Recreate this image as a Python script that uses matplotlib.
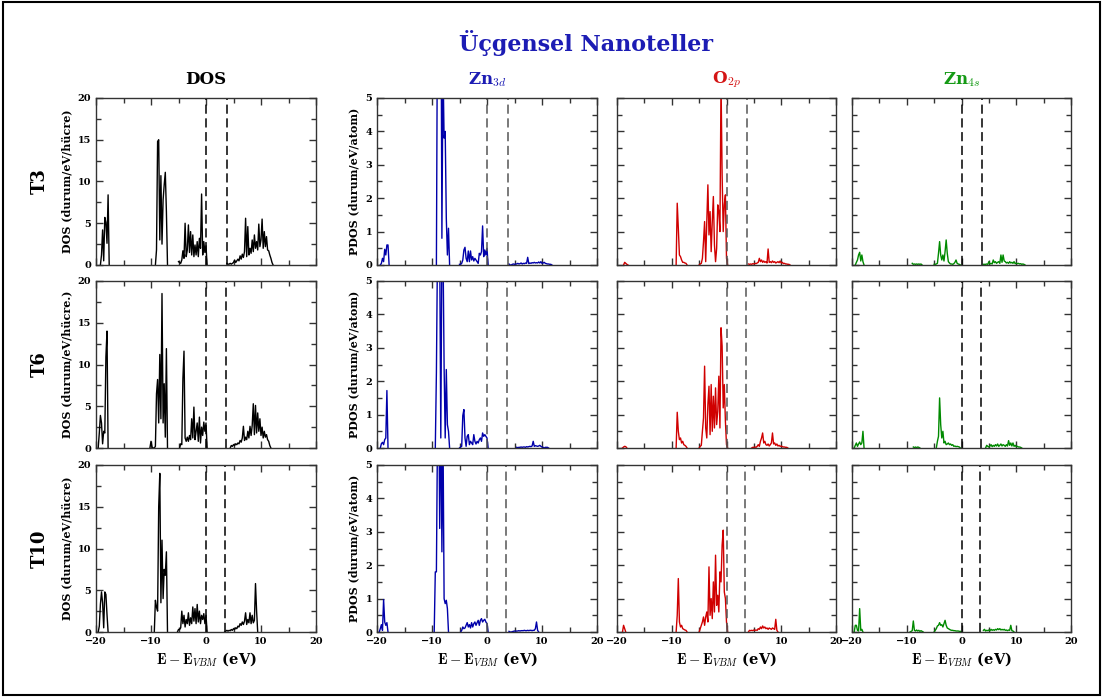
import numpy as np
import matplotlib
matplotlib.use("Agg")
from matplotlib import pyplot as plt
from matplotlib.patches import Rectangle
from matplotlib.ticker import MultipleLocator

plt.rcParams['font.family'] = ['DejaVu Serif']
plt.rcParams['mathtext.fontset'] = 'cm'

# energy grid step of the sampled spectra (eV)
STEP = 0.2

rows = ['T3', 'T6', 'T10']
gaps = [3.8, 3.65, 3.47]          # second dashed line (band gap), eV
col_titles = ['DOS', r'Zn$_{3d}$', r'O$_{2p}$', r'Zn$_{4s}$']
col_colors = ['black', '#1c1cb4', '#d41414', '#159a15']
line_colors = ['black', '#0000aa', '#d00000', '#008a00']
xticks = [-20, -10, 0, 10, 20]

# ---------------- T3 ----------------
t3_dos_start = [-19.2, -9.2, -5.0, 3.8]
t3_dos_vals = [
    [0, 1.2, 4.2, 0.5, 5.7, 5.1, 2.6, 8.4, 0],
    [0, 1.8, 14.8, 15.0, 3.0, 10.7, 2.5, 7.8, 9.6, 11.1, 6.4, 0],
    [0.4, 0.3, 0.2, 0.6, 1.7, 0.8, 5.0, 1.0, 1.8, 4.8, 1.5, 4.0, 1.2, 3.6, 1.0, 2.4,
     1.2, 2.8, 1.0, 3.2, 2.0, 8.5, 1.2, 2.8, 1.5, 2.3, 0],
    [0.2, 0.1, 0.1, 0.2, 0.1, 0.2, 0.3, 0.6, 0.3, 0.5, 0.7, 0.5, 1.1, 0.7, 1.3, 0.9,
     1.6, 5.6, 1.0, 4.6, 1.2, 2.0, 1.4, 3.0, 1.6, 3.6, 2.0, 2.8, 1.8, 4.9, 2.2, 3.0,
     5.5, 2.0, 4.0, 2.2, 3.4, 1.8, 1.7, 1.2, 0.8, 0.3, 0],
]
t3_zn3d_start = [-19.4, -9.2, -5.0, 4.0]
t3_zn3d_vals = [
    [0, 0.05, 0.2, 0.1, 0.47, 0.3, 0.6, 0.6, 0],
    [0, 8, 12, 9, 10, 0.8, 6, 3.8, 4.0, 1.4, 0.3, 1.1, 0],
    [0.02, 0.02, 0.05, 0.15, 0.45, 0.53, 0.2, 0.1, 0.42, 0.1, 0.42, 0.15, 0.25, 0.12,
     0.2, 0.15, 0.1, 0.05, 0.35, 0.3, 0.4, 1.17, 0.25, 0.45, 0.3, 0.5, 0],
    [0.03, 0, 0, 0.02, 0.03, 0.02, 0.03, 0.03, 0.05, 0.03, 0.04, 0.06, 0.03, 0.05,
     0.04, 0.06, 0.05, 0.23, 0.04, 0.06, 0.05, 0.07, 0.06, 0.08, 0.06, 0.07, 0.06,
     0.09, 0.06, 0.1, 0.05, 0.06, 0.08, 0.05, 0.04, 0.03, 0.03, 0.02, 0.02, 0],
]
t3_o2p_start = [-18.8, -9.2, -5.0, 4.0]
t3_o2p_vals = [
    [0, 0.08, 0.05, 0.02, 0],
    [0, 1.85, 1.1, 0.3, 0.25, 0.15, 0.08, 0.08, 0.06, 0.05, 0],
    [0, 0.03, 0.05, 0.2, 0.7, 1.3, 0.1, 1.3, 2.4, 0.9, 1.6, 0.4, 1.3, 2.05, 0.6, 0.1,
     0.5, 1.8, 1.6, 1.0, 5.5, 2.7, 1.0, 1.8, 2.1, 0.2, 0],
    [0.03, 0.02, 0.03, 0.02, 0.04, 0.03, 0.05, 0.04, 0.06, 0.08, 0.2, 0.1, 0.15, 0.08,
     0.12, 0.08, 0.1, 0.06, 0.48, 0.08, 0.1, 0.07, 0.12, 0.08, 0.1, 0.06, 0.08, 0.1,
     0.07, 0.12, 0.06, 0.08, 0.04, 0.05, 0.03, 0.03, 0.02, 0.02, 0],
]
t3_zn4s_start = [-19.4, -9.0, -5.0, 4.0]
t3_zn4s_vals = [
    [0, 0.08, 0.15, 0.3, 0.38, 0.12, 0.3, 0.1, 0],
    [0.05, 0.02, 0.03, 0.02, 0.03, 0.02, 0.03, 0.02, 0.03, 0],
    [0.02, 0.02, 0.03, 0.05, 0.35, 0.7, 0.3, 0.15, 0.3, 0.12, 0.4, 0.75, 0.35, 0.1,
     0.06, 0.03, 0.03, 0.02, 0.04, 0.08, 0.15, 0.05, 0.03, 0.02, 0],
    [0.02, 0.02, 0.02, 0.03, 0.02, 0.1, 0.03, 0.05, 0.03, 0.15, 0.07, 0.1, 0.05, 0.08,
     0.1, 0.05, 0.3, 0.08, 0.3, 0.12, 0.1, 0.06, 0.08, 0.05, 0.1, 0.06, 0.08, 0.05,
     0.1, 0.04, 0.06, 0.04, 0.05, 0.03, 0.04, 0.02, 0.03, 0.02, 0],
]

# ---------------- T6 ----------------
t6_dos_start = [-19.6, -10.2, -4.8, 4.4]
t6_dos_vals = [
    [0, 1.8, 3.9, 3.0, 0.5, 2.0, 1.8, 10.9, 14.0, 0],
    [0, 0.8, 0.1, 0, 0, 0.2, 6.5, 8.2, 3.0, 11.2, 3.5, 18.5, 3.0, 7.7, 1.3, 11.9, 0],
    [0, 0.5, 0.4, 8.3, 11.6, 1.2, 0.8, 1.3, 0.8, 1.5, 1.0, 3.5, 1.2, 4.9, 1.0, 2.0,
     3.0, 0.8, 3.7, 0.6, 2.5, 1.5, 3.1, 2.0, 3.0, 0],
    [0, 0.3, 0.2, 0.4, 0.3, 0.5, 0.4, 0.6, 0.5, 0.9, 0.7, 1.2, 2.6, 0.9, 1.3, 1.0,
     2.0, 1.2, 2.6, 1.5, 2.7, 5.3, 1.6, 5.1, 1.8, 4.2, 2.0, 3.5, 1.5, 2.5, 1.2, 2.0,
     1.3, 1.6, 1.0, 0.8, 0.3, 0],
]
t6_zn3d_start = [-19.4, -9.4, -5.0, 5.4]
t6_zn3d_vals = [
    [0, 0.13, 0.17, 0.1, 0.25, 0.3, 1.72, 0],
    [0, 2.25, 6, 7, 6, 0.3, 6, 6, 2.45, 0.3, 2.35, 0.7, 0.5, 0],
    [0, 0.03, 0.05, 0.97, 1.15, 0.3, 0.05, 0.35, 0.4, 0.1, 0.2, 0.15, 0.1, 0.4, 0.2,
     0.12, 0.2, 0.15, 0.25, 0.3, 0.2, 0.45, 0.35, 0.4, 0.35, 0.3, 0],
    [0.02, 0.01, 0.02, 0.02, 0.03, 0.02, 0.03, 0.03, 0.02, 0.04, 0.03, 0.04, 0.05,
     0.04, 0.06, 0.2, 0.05, 0.07, 0.06, 0.05, 0.06, 0.08, 0.05, 0.03, 0.02, 0, 0.02,
     0.02, 0.02, 0],
]
t6_o2p_start = [-19.0, -9.2, -5.0, 4.6]
t6_o2p_vals = [
    [0, 0.03, 0.05, 0.04, 0],
    [0, 1.07, 0.5, 0.25, 0.3, 0.15, 0.2, 0.1, 0.08, 0.05, 0],
    [0, 0.05, 0.08, 0.5, 0.9, 2.45, 0.6, 0.3, 1.3, 1.85, 0.4, 1.9, 0.5, 1.55, 0.6, 1.8,
     0.7, 1.1, 2.15, 0.6, 3.6, 3.05, 1.2, 1.9, 0.8, 0.1, 0],
    [0, 0.02, 0.02, 0.03, 0.02, 0.05, 0.1, 0.05, 0.2, 0.3, 0.45, 0.15, 0.2, 0.1, 0.08,
     0.12, 0.06, 0.1, 0.15, 0.45, 0.12, 0.15, 0.08, 0.12, 0.06, 0.08, 0.05, 0.06,
     0.04, 0.03, 0.03, 0.02, 0.02, 0],
]
t6_zn4s_start = [-19.6, -8.8, -4.6, 4.4]
t6_zn4s_vals = [
    [0, 0.08, 0.15, 0.05, 0.12, 0.18, 0.1, 0.15, 0.5, 0],
    [0.03, 0.01, 0.03, 0.01, 0.03, 0.02, 0],
    [0, 0.2, 0.35, 1.5, 0.7, 0.3, 0.5, 0.15, 0.2, 0.1, 0.12, 0.15, 0.1, 0.12, 0.08,
     0.1, 0.05, 0.06, 0.04, 0.05, 0.04, 0.03, 0],
    [0, 0.08, 0.05, 0.03, 0.06, 0.1, 0.04, 0.08, 0.05, 0.1, 0.06, 0.12, 0.05, 0.08,
     0.12, 0.06, 0.1, 0.08, 0.05, 0.1, 0.06, 0.22, 0.08, 0.15, 0.06, 0.15, 0.05,
     0.08, 0.04, 0.05, 0.03, 0.03, 0.02, 0],
]

# ---------------- T10 ----------------
t10_dos_start = [-19.6, -9.4, -5.2, 3.4]
t10_dos_vals = [
    [0, 0.7, 3.3, 4.8, 3.5, 0.5, 4.8, 4.5, 2.1, 0],
    [0, 3.8, 3.0, 2.5, 15.0, 19.0, 3.5, 11.0, 4.0, 7.5, 6.8, 9.6, 0],
    [0, 0.3, 0.3, 0.5, 2.5, 1.0, 2.0, 0.6, 1.5, 1.0, 2.3, 0.8, 1.7, 1.0, 3.0, 1.3,
     2.8, 1.0, 3.3, 1.2, 2.5, 1.0, 2.0, 1.5, 2.2, 1.0, 2.0, 0],
    [0, 0.1, 0.2, 0.1, 0.2, 0.15, 0.3, 0.2, 0.4, 0.3, 0.5, 0.4, 0.7, 0.6, 1.0, 0.8,
     1.2, 0.9, 1.3, 2.3, 0.9, 1.5, 1.1, 2.3, 1.0, 2.0, 1.1, 1.4, 5.8, 2.5, 0],
]
t10_zn3d_start = [-19.6, -9.6, -4.8, 4.0]
t10_zn3d_vals = [
    [0, 0.1, 0.22, 0.05, 0.97, 0.3, 0.2, 0.28, 0],
    [0, 1.8, 1.8, 6, 8, 3.1, 7, 2.4, 6, 1.0, 0.85, 0.95, 0.7, 0],
    [0, 0.05, 0.15, 0.1, 0.12, 0.2, 0.28, 0.15, 0.22, 0.12, 0.28, 0.15, 0.25, 0.3, 0.2,
     0.28, 0.35, 0.2, 0.35, 0.4, 0.3, 0.35, 0.38, 0.3, 0.25, 0],
    [0.02, 0, 0, 0.01, 0.02, 0.03, 0.02, 0.03, 0.03, 0.04, 0.03, 0.04, 0.04, 0.04,
     0.05, 0.04, 0.04, 0.05, 0.04, 0.05, 0.05, 0.04, 0.05, 0.05, 0.1, 0.3, 0.05, 0],
]
t10_o2p_start = [-19.0, -9.2, -5.0, 4.0]
t10_o2p_vals = [
    [0, 0.2, 0.1, 0],
    [0, 0.5, 1.6, 0.3, 0.15, 0.2, 0.1, 0.08, 0.06, 0.05, 0],
    [0, 0.1, 0.2, 0.3, 0.45, 0.2, 0.45, 0.6, 0.3, 1.95, 0.5, 1.0, 0.4, 1.5, 0.6, 2.3,
     0.8, 1.1, 0.6, 1.8, 1.5, 2.6, 3.05, 1.2, 1.0, 0.3, 0],
    [0, 0.05, 0.04, 0.05, 0.04, 0.06, 0.05, 0.06, 0.05, 0.1, 0.08, 0.15, 0.1, 0.18,
     0.12, 0.15, 0.1, 0.12, 0.08, 0.12, 0.1, 0.08, 0.12, 0.1, 0.08, 0.38, 0.05, 0],
]
t10_zn4s_start = [-19.6, -9.4, -5.0, 4.0]
t10_zn4s_vals = [
    [0, 0.2, 0.2, 0.05, 0.03, 0.7, 0.05, 0.08, 0],
    [0, 0.02, 0.04, 0.33, 0.05, 0.03, 0.06, 0.03, 0.05, 0.02, 0.04, 0.02, 0],
    [0, 0.05, 0.1, 0.18, 0.2, 0.28, 0.2, 0.22, 0.15, 0.25, 0.35, 0.2, 0.12, 0.1, 0.08,
     0.06, 0.05, 0.05, 0.04, 0.04, 0.03, 0.03, 0.03, 0.02, 0.02, 0],
    [0.05, 0.08, 0.03, 0.05, 0.04, 0.06, 0.04, 0.08, 0.05, 0.07, 0.05, 0.08, 0.06,
     0.1, 0.07, 0.1, 0.06, 0.08, 0.06, 0.08, 0.05, 0.06, 0.04, 0.06, 0.05, 0.2, 0.04,
     0.03, 0],
]

panels = [
    [(t3_dos_start, t3_dos_vals), (t3_zn3d_start, t3_zn3d_vals),
     (t3_o2p_start, t3_o2p_vals), (t3_zn4s_start, t3_zn4s_vals)],
    [(t6_dos_start, t6_dos_vals), (t6_zn3d_start, t6_zn3d_vals),
     (t6_o2p_start, t6_o2p_vals), (t6_zn4s_start, t6_zn4s_vals)],
    [(t10_dos_start, t10_dos_vals), (t10_zn3d_start, t10_zn3d_vals),
     (t10_o2p_start, t10_o2p_vals), (t10_zn4s_start, t10_zn4s_vals)],
]
dos_ylabels = ['DOS (durum/eV/hücre)', 'DOS (durum/eV/hücre.)', 'DOS (durum/eV/hücre)']


def spectrum(starts, vals):
    e, v = [], []
    for s, seg in zip(starts, vals):
        e += [s + STEP * i for i in range(len(seg))] + [np.nan]
        v += list(seg) + [np.nan]
    return e, v


W, H = 1103, 697
fig = plt.figure(figsize=(W / 100, H / 100), dpi=100)
fig.patches.append(Rectangle((0.003, 0.003), 0.994, 0.994, transform=fig.transFigure,
                             fill=False, edgecolor='black', lw=1.5))

col_x = [(96, 316), (377, 597), (617, 836), (852, 1071)]
row_y = [(98, 265), (281, 448), (465, 632)]

fig.text(586 / W, 1 - 43 / H, 'Üçgensel Nanoteller', ha='center', va='center',
         fontsize=16, fontweight='bold', color='#1c1cb4')

for j, (x0, x1) in enumerate(col_x):
    fig.text((x0 + x1) / 2 / W, 1 - 80 / H, col_titles[j], ha='center', va='center',
             fontsize=12, fontweight='bold', color=col_colors[j])

for i, (y0, y1) in enumerate(row_y):
    fig.text(40 / W, 1 - (y0 + y1) / 2 / H, rows[i], ha='center', va='center',
             rotation=90, fontsize=13, fontweight='bold')
    for j, (x0, x1) in enumerate(col_x):
        ax = fig.add_axes([x0 / W, 1 - y1 / H, (x1 - x0) / W, (y1 - y0) / H])
        starts, vals = panels[i][j]
        e, v = spectrum(starts, vals)
        ax.plot(e, v, color=line_colors[j], lw=1.0)
        dash_col = '#555555' if j in (1, 2) else 'black'
        for g in (0, gaps[i]):
            ax.axvline(g, color=dash_col, lw=1.1, linestyle=(0, (6, 3)))
        ax.set_xlim(-20, 20)
        ax.set_xticks(xticks)
        ax.xaxis.set_minor_locator(MultipleLocator(5))
        if j == 0:
            ax.set_ylim(0, 20)
            ax.yaxis.set_major_locator(MultipleLocator(5))
            ax.yaxis.set_minor_locator(MultipleLocator(2.5))
            ax.set_ylabel(dos_ylabels[i], fontsize=8, fontweight='bold', labelpad=4)
        else:
            ax.set_ylim(0, 5)
            ax.yaxis.set_major_locator(MultipleLocator(1))
            ax.yaxis.set_minor_locator(MultipleLocator(0.5))
            if j == 1:
                ax.set_ylabel('PDOS (durum/eV/atom)', fontsize=8, fontweight='bold',
                              labelpad=4)
            else:
                ax.tick_params(labelleft=False)
        ax.tick_params(which='both', direction='in', top=True, right=True,
                       labelsize=7, width=1, color='#333333')
        ax.tick_params(which='major', length=5)
        ax.tick_params(which='minor', length=3.5)
        for lab in ax.get_xticklabels() + ax.get_yticklabels():
            lab.set_fontweight('bold')
        if i == 2:
            ax.set_xlabel(r'$\mathbf{E} - \mathbf{E}_{VBM}$ (eV)', fontsize=10.5,
                          fontweight='bold', labelpad=3)
        else:
            ax.tick_params(labelbottom=False)
        for sp in ax.spines.values():
            sp.set_linewidth(1.0)
            sp.set_color('#333333')

fig.savefig('out.png', dpi=100)
